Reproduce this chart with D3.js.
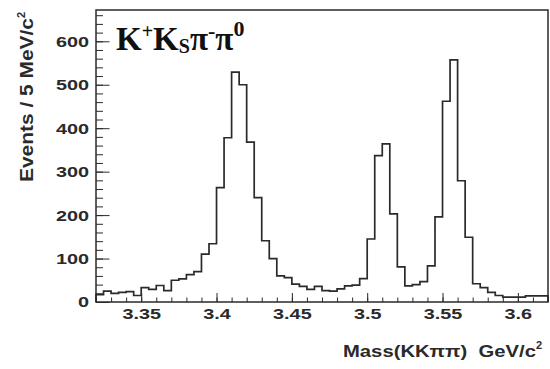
<!DOCTYPE html>
<html>
<head>
<meta charset="utf-8">
<script src="https://cdn.jsdelivr.net/npm/d3@7"></script>
<style>
  html, body { margin: 0; padding: 0; background: #fff; }
  svg { display: block; }
</style>
</head>
<body>
<div id="chart"></div>
<script>
// histogram: 60 bins of 5 MeV from 3.32 to 3.62 GeV
const histRange = [3.32, 3.62];
const binWidth = 0.005;
const counts = [
  17, 25, 20, 22, 24, 15, 33, 29, 38, 26,
  50, 53, 63, 70, 110, 134, 263, 378, 529, 500,
  368, 240, 141, 100, 60, 56, 41, 36, 29, 36,
  26, 25, 30, 37, 39, 54, 145, 337, 364, 203,
  81, 37, 40, 47, 83, 196, 462, 557, 279, 149,
  42, 33, 22, 15, 11, 11, 11, 14, 14, 14
];
const yMax = 672;
const xTicks = [3.35, 3.4, 3.45, 3.5, 3.55, 3.6];
const xTickLabels = ['3.35', '3.4', '3.45', '3.5', '3.55', '3.6'];
const yTicks = [0, 100, 200, 300, 400, 500, 600];
const yTickLabels = ['0', '100', '200', '300', '400', '500', '600'];

const width = 550, height = 369;
const plotL = 96, plotR = 548, plotT = 10, plotB = 302;
const font = '"Liberation Sans", Arial, Helvetica, sans-serif';
const ink = '#2a2a2a';
const sx = 1.28; // labels in the picture are drawn wide

const svg = d3.select('#chart').append('svg')
  .attr('width', width).attr('height', height)
  .attr('viewBox', [0, 0, width, height]);

const x = d3.scaleLinear().domain(histRange).range([plotL, plotR]);
const y = d3.scaleLinear().domain([0, yMax]).range([plotB, plotT]);

// minor ticks
svg.append('g')
  .attr('transform', `translate(0,${plotB})`)
  .call(d3.axisBottom(x).tickValues(x.ticks(30)).tickSizeInner(-4.5).tickSizeOuter(0).tickFormat(''))
  .call(g => g.select('.domain').remove())
  .call(g => g.selectAll('line').attr('stroke', ink));

svg.append('g')
  .attr('transform', `translate(${plotL},0)`)
  .call(d3.axisLeft(y).tickValues(y.ticks(34)).tickSizeInner(-7).tickSizeOuter(0).tickFormat(''))
  .call(g => g.select('.domain').remove())
  .call(g => g.selectAll('line').attr('stroke', ink));

// major ticks + labels
svg.append('g')
  .attr('transform', `translate(0,${plotB})`)
  .call(d3.axisBottom(x).tickValues(xTicks).tickSizeInner(-9).tickSizeOuter(0).tickPadding(6)
    .tickFormat((d, i) => xTickLabels[i]))
  .call(g => g.select('.domain').remove())
  .call(g => g.selectAll('line').attr('stroke', ink))
  .call(g => g.selectAll('text')
    .attr('fill', ink).attr('font-family', font).attr('font-weight', 'bold')
    .attr('font-size', 15.5).attr('transform', `scale(${sx},1)`));

svg.append('g')
  .attr('transform', `translate(${plotL},0)`)
  .call(d3.axisLeft(y).tickValues(yTicks).tickSizeInner(-13.5).tickSizeOuter(0).tickPadding(7)
    .tickFormat((d, i) => yTickLabels[i]))
  .call(g => g.select('.domain').remove())
  .call(g => g.selectAll('line').attr('stroke', ink))
  .call(g => g.selectAll('text')
    .attr('fill', ink).attr('font-family', font).attr('font-weight', 'bold')
    .attr('font-size', 15.5).attr('x', -7 / sx).attr('transform', `scale(${sx},1)`));

// histogram outline
const edges = counts.map((c, i) => histRange[0] + i * binWidth);
const pts = [[histRange[0], 0]]
  .concat(counts.map((c, i) => [edges[i], c]))
  .concat([[histRange[1], counts[counts.length - 1]], [histRange[1], 0]]);

const line = d3.line()
  .x(d => x(d[0]))
  .y(d => y(d[1]))
  .curve(d3.curveStepAfter);

svg.append('path')
  .attr('d', line(pts))
  .attr('fill', 'none')
  .attr('stroke', ink)
  .attr('stroke-width', 1.7);

// frame
svg.append('rect')
  .attr('x', plotL).attr('y', plotT)
  .attr('width', plotR - plotL).attr('height', plotB - plotT)
  .attr('fill', 'none').attr('stroke', ink).attr('stroke-width', 1.5);

// axis titles
const xt = svg.append('text')
  .attr('x', 343).attr('y', 357)
  .style('white-space', 'pre')
  .attr('font-family', font).attr('font-weight', 'bold').attr('font-size', 17)
  .attr('fill', ink);
xt.append('tspan').text('Mass(KK\u03c0\u03c0)\u00a0\u00a0GeV/c').attr('textLength', 193).attr('lengthAdjust', 'spacingAndGlyphs');
xt.append('tspan').text('2').attr('font-size', 11).attr('dy', -8);

const yt = svg.append('text')
  .attr('transform', 'translate(33,182) rotate(-90)')
  .attr('font-family', font).attr('font-weight', 'bold').attr('font-size', 18)
  .attr('fill', ink);
yt.append('tspan').text('Events / 5 MeV/c').attr('textLength', 164).attr('lengthAdjust', 'spacingAndGlyphs');
yt.append('tspan').text('2').attr('font-size', 11).attr('dy', -8);

// reaction label
const serif = '"Liberation Serif", "Times New Roman", serif';
const t = svg.append('text')
  .attr('x', 116).attr('y', 50)
  .attr('font-family', serif).attr('font-weight', 'bold').attr('font-size', 33)
  .attr('fill', '#111');
t.append('tspan').text('K');
t.append('tspan').text('+').attr('font-size', 20).attr('dy', -12);
t.append('tspan').text('K').attr('dy', 12);
t.append('tspan').text('S').attr('font-size', 20).attr('dy', 3);
t.append('tspan').text('\u03c0').attr('dy', -3);
t.append('tspan').text('-').attr('font-size', 22).attr('dy', -12);
t.append('tspan').text('\u03c0').attr('dy', 12);
t.append('tspan').text('0').attr('font-size', 22).attr('dy', -14);
</script>
</body>
</html>
